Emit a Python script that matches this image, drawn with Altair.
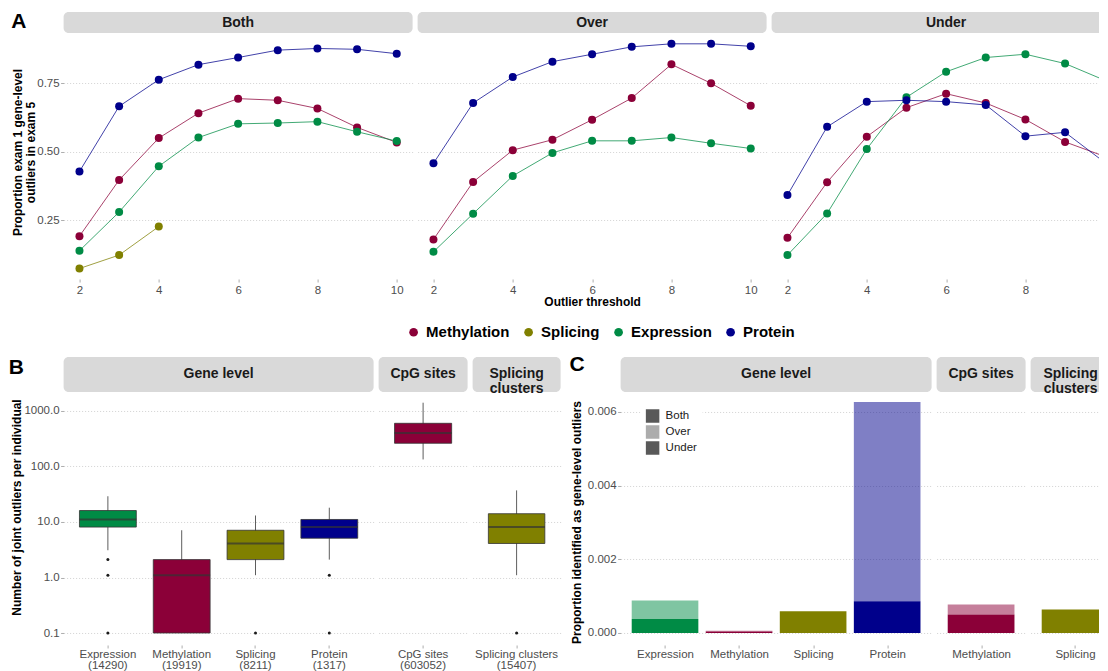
import altair as alt
import pandas as pd

FONT = "Liberation Sans"

# ---------------- shared categories / colours ----------------
OMICS = ["Methylation", "Splicing", "Expression", "Protein"]
OMIC_COLORS = ["#8B0038", "#808000", "#008B45", "#00008B"]
PANEL_LETTERS = ["A", "B", "C"]

# ---------------- panel A ----------------
FACETS_A = ["Both", "Over", "Under"]
THRESHOLDS = [2, 3, 4, 5, 6, 7, 8, 9, 10]
METH_BOTH = [0.191, 0.396, 0.549, 0.640, 0.693, 0.687, 0.657, 0.588, 0.533]
SPLI_BOTH = [0.073, 0.122, 0.226]
EXPR_BOTH = [0.138, 0.279, 0.446, 0.551, 0.601, 0.604, 0.609, 0.572, 0.538]
PROT_BOTH = [0.427, 0.665, 0.762, 0.817, 0.843, 0.870, 0.876, 0.873, 0.857]
METH_OVER = [0.179, 0.389, 0.505, 0.543, 0.616, 0.695, 0.818, 0.749, 0.667]
EXPR_OVER = [0.134, 0.273, 0.411, 0.495, 0.539, 0.539, 0.551, 0.530, 0.511]
PROT_OVER = [0.457, 0.677, 0.772, 0.828, 0.855, 0.882, 0.893, 0.893, 0.884]
METH_UNDER = [0.185, 0.388, 0.554, 0.660, 0.711, 0.677, 0.617, 0.535, 0.482]
EXPR_UNDER = [0.122, 0.274, 0.509, 0.698, 0.791, 0.843, 0.855, 0.821, 0.760]
PROT_UNDER = [0.341, 0.590, 0.682, 0.687, 0.682, 0.670, 0.556, 0.570, 0.460]
A_Y_TICKS = [0.25, 0.50, 0.75]
A_X_TICKS = [2, 4, 6, 8, 10]
A_TITLE_Y = ["Proportion exam 1 gene-level", "outliers in exam 5"]
A_TITLE_X = "Outlier threshold"

# ---------------- panel B ----------------
GROUPS = ["Gene level", "CpG sites", "Splicing\nclusters"]
B_CATS = ["Expression", "Methylation", "Splicing", "Protein", "CpG sites", "Splicing clusters"]
B_GROUP = [0, 0, 0, 0, 1, 2]
B_OMIC = ["Expression", "Methylation", "Splicing", "Protein", "Methylation", "Splicing"]
B_N = [14290, 19919, 8211, 1317, 603052, 15407]
B_LO = [3.1, 0.1, 1.1, 2.1, 134, 1.1]
B_Q1 = [8.1, 0.1, 2.1, 5.1, 262, 4.1]
B_MED = [11.1, 1.1, 4.1, 8.1, 400, 8.1]
B_Q3 = [16.1, 2.1, 7.1, 11.1, 600, 14.1]
B_HI = [29.1, 7.1, 13.1, 18.1, 1410, 37.1]
B_OUT_CAT = ["Expression", "Expression", "Expression", "Splicing", "Protein", "Protein", "Splicing clusters"]
B_OUT_VAL = [2.1, 1.1, 0.1, 0.1, 1.1, 0.1, 0.1]
B_Y_TICKS = [0.1, 1, 10, 100, 1000]
B_TITLE = "Number of joint outliers per individual"

# ---------------- panel C ----------------
C_GROUP = [0, 0, 0, 0, 0, 0, 0, 1, 1, 2]
C_CAT = ["Expression", "Expression", "Methylation", "Methylation", "Splicing",
         "Protein", "Protein", "Methylation", "Methylation", "Splicing"]
C_OMIC = ["Expression", "Expression", "Methylation", "Methylation", "Splicing",
          "Protein", "Protein", "Methylation", "Methylation", "Splicing"]
C_TYPE = ["Under", "Over", "Under", "Over", "Both", "Under", "Over", "Under", "Over", "Both"]
C_VAL = [0.00038, 0.00050, 0.00004, 0.00002, 0.00059, 0.00086, 0.00541, 0.00050, 0.00027, 0.00064]
C_CAT_ORDER = ["Expression", "Methylation", "Splicing", "Protein"]
TYPES = ["Both", "Over", "Under"]
TYPE_ALPHA = [1.0, 0.5, 0.999]
C_Y_TICKS = [0.0, 0.002, 0.004, 0.006]
C_TITLE = "Proportion identified as gene-level outliers"

# ---------------- layout constants (integer pixel sizes) ----------------
A_W = [349, 349, 328]
A_H, A_STRIP = 267, 21
A_PXU = 349 / 8.8
B_H, B_STRIP = 288, 35
B_W = [310, 89, 88]
C_W = [311, 89, 69]
C_STEP = 74.05
SPACER_W = 50

CSCALE = alt.Scale(domain=OMICS, range=OMIC_COLORS)
COLOR_LEGEND = alt.Legend(orient="none", legendX=342.5, legendY=312.5, direction="horizontal",
                          title=None, labelFontSize=15, labelFontWeight="bold", labelColor="black",
                          symbolType="circle", symbolSize=75, symbolStrokeWidth=0, symbolOpacity=1,
                          labelOffset=5, columnPadding=11)
ALPHA_LABELS = " : ".join("datum.value == %s ? '%s'" % (a, t) for a, t in zip(TYPE_ALPHA, TYPES)) + " : ''"
OP_LEGEND = alt.Legend(orient="none", legendX=577, legendY=392, title=None, symbolType="square",
                       symbolSize=182, symbolFillColor="#595959", symbolStrokeWidth=0,
                       labelFontSize=11.5, labelColor="#1A1A1A", rowPadding=2, labelOffset=6,
                       fillColor="white", padding=5, values=TYPE_ALPHA, labelExpr=ALPHA_LABELS)


def color_enc():
    return alt.Color("omic:N", scale=CSCALE, legend=COLOR_LEGEND)


def strip_layers(label, w, h, cut=False, cx=None):
    sdf = pd.DataFrame({"lab": [label]})
    if cx is None:
        cx = w / 2
    layers = [alt.Chart(sdf).mark_rect(color="#D9D9D9", cornerRadius=5).encode(
        x=alt.value(0), x2=alt.value(w), y=alt.value(0), y2=alt.value(h))]
    if cut:
        layers.append(alt.Chart(sdf).mark_rect(color="#D9D9D9").encode(
            x=alt.value(w - 8), x2=alt.value(w), y=alt.value(0), y2=alt.value(h)))
    layers.append(alt.Chart(sdf).mark_text(font=FONT, fontSize=14, fontWeight="bold", color="#1A1A1A",
                                           lineBreak="\n", lineHeight=15, baseline="middle").encode(
        text="lab:N", x=alt.value(cx), y=alt.value(h / 2)))
    return layers


def letter(k, x, y):
    ldf = pd.DataFrame({"t": [PANEL_LETTERS[k]]})
    return alt.Chart(ldf).mark_text(font=FONT, fontSize=21, fontWeight="bold", color="black",
                                    baseline="middle").encode(
        text="t:N", x=alt.value(x), y=alt.value(y))


# ---------------- build panel A ----------------
A_SERIES = [
    {"Methylation": METH_BOTH, "Splicing": SPLI_BOTH, "Expression": EXPR_BOTH, "Protein": PROT_BOTH},
    {"Methylation": METH_OVER, "Expression": EXPR_OVER, "Protein": PROT_OVER},
    {"Methylation": METH_UNDER, "Expression": EXPR_UNDER, "Protein": PROT_UNDER},
]


def a_panel(i):
    w = A_W[i]
    rows = []
    for om in OMICS:
        vals = A_SERIES[i].get(om)
        if vals is None:
            continue
        for t, v in zip(THRESHOLDS, vals):
            rows.append({"threshold": t, "value": v, "omic": om})
    df = pd.DataFrame(rows)
    xs = alt.Scale(domain=[1.6, 1.6 + w / A_PXU], nice=False, zero=False)
    ys = alt.Scale(domain=[0.0347, 0.9325], range=[A_H, A_STRIP], nice=False, zero=False)
    xticks = A_X_TICKS if i < 2 else A_X_TICKS[:-1]
    xaxis = alt.Axis(values=xticks, format="d", title=A_TITLE_X if i == 1 else None, grid=False,
                     labelPadding=2, titlePadding=1, labelFlush=False, labelOverlap=False)
    if i == 0:
        yaxis = alt.Axis(values=A_Y_TICKS, format=".2f", title=A_TITLE_Y, titleX=-42.5, titleY=140,
                         titleBaseline="alphabetic", titleLineHeight=13.5, titleAlign="center",
                         labelPadding=1.5, grid=True)
    else:
        yaxis = alt.Axis(values=A_Y_TICKS, labels=False, ticks=False, title=None, grid=True)
    base = alt.Chart(df).encode(
        x=alt.X("threshold:Q", scale=xs, axis=xaxis),
        y=alt.Y("value:Q", scale=ys, axis=yaxis),
        color=color_enc(),
    )
    line = base.mark_line(strokeWidth=1, opacity=0.75, clip=True)
    pts = base.mark_circle(size=64, opacity=1, clip=True)
    layers = strip_layers(FACETS_A[i], w, A_STRIP, cut=(i == 2), cx=174.5 if i == 2 else None) + [line, pts]
    if i == 0:
        layers.append(letter(0, -44.8, 10))
    return alt.layer(*layers).properties(width=w, height=A_H)


# ---------------- build panel B ----------------
def b_panel(g):
    idx = [k for k in range(len(B_CATS)) if B_GROUP[k] == g]
    cats = [B_CATS[k] for k in idx]
    w = B_W[g]
    step = w / (len(cats) + 0.2)
    df = pd.DataFrame({
        "cat": cats, "omic": [B_OMIC[k] for k in idx],
        "lo": [B_LO[k] for k in idx], "q1": [B_Q1[k] for k in idx], "med": [B_MED[k] for k in idx],
        "q3": [B_Q3[k] for k in idx], "hi": [B_HI[k] for k in idx],
    })
    odf = pd.DataFrame({"cat": [c for c in B_OUT_CAT if c in cats],
                        "val": [v for c, v in zip(B_OUT_CAT, B_OUT_VAL) if c in cats]})
    expr = ""
    for k in idx:
        expr += "datum.value == '%s' ? ['%s', '(%d)'] : " % (B_CATS[k], B_CATS[k], B_N[k])
    expr += "datum.label"
    X = alt.X("cat:N", scale=alt.Scale(domain=cats, paddingInner=0.23, paddingOuter=0.215),
              axis=alt.Axis(title=None, labelExpr=expr, labelLineHeight=11.5, labelPadding=0.5,
                            labelAngle=0, grid=False, labelBaseline="top"))
    ys = alt.Scale(type="log", domain=[0.0608, 2199], range=[B_H, B_STRIP], nice=False)
    if g == 0:
        yaxis = alt.Axis(values=B_Y_TICKS, format=".1f", title=B_TITLE, titleX=-43.5, titleY=150,
                         titleBaseline="alphabetic", titleAlign="center", labelPadding=1.5, grid=True)
    else:
        yaxis = alt.Axis(values=B_Y_TICKS, labels=False, ticks=False, title=None, grid=True)

    def Y(f):
        return alt.Y(f + ":Q", scale=ys, axis=yaxis)

    rule = alt.Chart(df).mark_rule(color="#333333", strokeWidth=0.8).encode(x=X, y=Y("lo"), y2="hi:Q")
    box = alt.Chart(df).mark_bar(stroke="#333333", strokeWidth=0.8).encode(
        x=X, y=Y("q1"), y2="q3:Q", color=color_enc())
    med = alt.Chart(df).mark_tick(color="#333333", thickness=2, size=step * 0.77).encode(x=X, y=Y("med"))
    layers = strip_layers(GROUPS[g], w, B_STRIP) + [rule, box, med]
    if len(odf):
        layers.append(alt.Chart(odf).mark_circle(size=9, color="#1A1A1A", opacity=1).encode(x=X, y=Y("val")))
    if g == 0:
        layers.append(letter(1, -47.3, 11))
    return alt.layer(*layers).properties(width=w, height=B_H)


# ---------------- build panel C ----------------
def c_panel(g):
    idx = [k for k in range(len(C_CAT)) if C_GROUP[k] == g]
    cats = [c for c in C_CAT_ORDER if c in [C_CAT[k] for k in idx]]
    w = C_W[g]
    full_w = C_STEP * (len(cats) + 0.2)
    cut = w < full_w - 1
    step = C_STEP if cut else w / (len(cats) + 0.2)
    df = pd.DataFrame({
        "cat": [C_CAT[k] for k in idx], "omic": [C_OMIC[k] for k in idx],
        "type": [C_TYPE[k] for k in idx], "val": [C_VAL[k] for k in idx],
        "alpha": [TYPE_ALPHA[TYPES.index(C_TYPE[k])] for k in idx],
        "ord": [1 if C_TYPE[k] == "Over" else 0 for k in idx],
    })
    df["pos"] = [cats.index(c) for c in df["cat"]]
    df["x0"] = df["pos"] - 0.45
    df["x1"] = df["pos"] + 0.45
    ys = alt.Scale(domain=[-0.000326, 0.00654], range=[B_H, B_STRIP], nice=False, zero=False)
    if g == 0:
        yaxis = alt.Axis(values=C_Y_TICKS, format=".3f", title=C_TITLE, titleX=-40, titleY=165,
                         titleBaseline="alphabetic", titleAlign="center", labelPadding=1.5, grid=True)
    else:
        yaxis = alt.Axis(values=C_Y_TICKS, labels=False, ticks=False, title=None, grid=True)
    cat_expr = "[" + ", ".join("'%s'" % c for c in cats) + "][datum.value]"
    X = alt.X("x0:Q", scale=alt.Scale(domain=[-0.6, -0.6 + w / step], nice=False, zero=False),
              axis=alt.Axis(title=None, values=list(range(len(cats))), labelExpr=cat_expr, grid=False,
                            labelPadding=0.5, labelBaseline="top", labelFlush=False, labelOverlap=False))
    bars = alt.Chart(df).transform_stack(
        stack="val", as_=["v0", "v1"], groupby=["cat"], sort=[alt.SortField("ord", order="ascending")]
    ).mark_bar(clip=True).encode(
        x=X, x2="x1:Q",
        y=alt.Y("v0:Q", scale=ys, axis=yaxis), y2="v1:Q",
        color=color_enc(),
        opacity=alt.Opacity("alpha:Q", scale=alt.Scale(domain=[0, 1], range=[0, 1]), legend=OP_LEGEND),
    )
    cx = min(full_w / 2, w - 29) if cut else None
    layers = strip_layers(GROUPS[g], w, B_STRIP, cut=cut, cx=cx) + [bars]
    if g == 0:
        layers.append(letter(2, -43.5, 8.5))
    return alt.layer(*layers).properties(width=w, height=B_H)


spacer = alt.Chart(pd.DataFrame({"s": [0]})).mark_point(opacity=0, size=0).properties(width=SPACER_W, height=B_H)

rowA = alt.hconcat(*[a_panel(i) for i in range(3)], spacing=5, bounds="flush")
rowBC = alt.hconcat(b_panel(0), b_panel(1), b_panel(2), spacer, c_panel(0), c_panel(1), c_panel(2),
                    spacing=5, bounds="flush")

chart = alt.vconcat(rowA, rowBC, spacing=46).properties(
    padding={"left": 0.6, "top": 3, "right": -0.5, "bottom": 0}
).configure_view(stroke=None).configure_axis(
    labelFont=FONT, titleFont=FONT, labelFontSize=11.5, labelColor="#4D4D4D",
    titleFontSize=12, titleFontWeight="bold", titleColor="#000000",
    tickColor="#999999", tickSize=3, tickWidth=0.8, domain=False,
    gridColor="#C8C8C8", gridDash=[1, 2], gridWidth=0.8,
).configure_legend(labelFont=FONT).configure_text(font=FONT)

chart.save("out.html", embed_options={"renderer": "svg", "actions": False})
